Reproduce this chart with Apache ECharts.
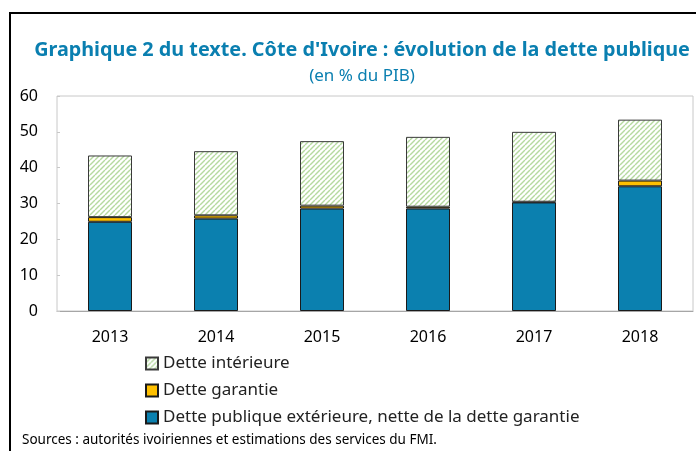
<!DOCTYPE html>
<html><head><meta charset="utf-8">
<script src="https://cdn.jsdelivr.net/npm/echarts@6/dist/echarts.min.js"></script>
<style>html,body{margin:0;padding:0;background:#fff}#c{width:696px;height:451px}</style>
</head><body><div id="c"></div>
<script>
const years = ['2013','2014','2015','2016','2017','2018'];
const detteExterieure = [24.9, 25.8, 28.6, 28.6, 30.3, 34.8];
const detteGarantie = [1.3, 0.9, 0.8, 0.5, 0.2, 1.6];
const detteInterieure = [17.2, 17.9, 18.0, 19.5, 19.5, 17.0];
const yTicks = [0, 10, 20, 30, 40, 50, 60];

const pc = document.createElement('canvas');
pc.width = 5; pc.height = 5;
const g = pc.getContext('2d');
g.fillStyle = '#fff'; g.fillRect(0,0,5,5);
g.strokeStyle = '#b5d9a0'; g.lineWidth = 1.4;
for (let k = -5; k <= 10; k += 5) { g.beginPath(); g.moveTo(k, 5); g.lineTo(k + 5, 0); g.stroke(); }
const hatch = {image: pc, repeat: 'repeat'};

const FONT = 'Noto Sans';
const chart = echarts.init(document.getElementById('c'), null, {renderer: 'canvas'});
chart.setOption({
  animation: false,
  textStyle: {fontFamily: FONT},
  graphic: [{type: 'rect', shape: {x: 10, y: 13, width: 700, height: 470}, style: {fill: 'none', stroke: '#000', lineWidth: 2}, z: -1},
    {type: 'text', left: 22, top: 433, style: {text: 'Sources : autorités ivoiriennes et estimations des services du FMI.', font: '13.5px "Noto Sans"', fill: '#000'}}],
  title: {text: "Graphique 2 du texte. Côte d'Ivoire : évolution de la dette publique", subtext: '(en % du PIB)',
    left: 357, textAlign: 'center', top: 35, itemGap: 8,
    textStyle: {fontFamily: FONT, fontSize: 19.8, fontWeight: 'bold', color: '#0a7fb0'},
    subtextStyle: {fontFamily: FONT, fontSize: 17, color: '#0a7fb0'}},
  legend: {orient: 'vertical', left: 140, top: 349, itemGap: 8, itemWidth: 12, itemHeight: 12, icon: 'rect',
    textStyle: {fontFamily: FONT, fontSize: 17, color: '#222', lineHeight: 19},
    data: ['Dette intérieure', 'Dette garantie', 'Dette publique extérieure, nette de la dette garantie']},
  grid: {left: 57, top: 96, right: 3, bottom: 140, show: true, borderColor: '#c8c8c8', borderWidth: 1},
  xAxis: {type: 'category', data: years,
    axisLine: {lineStyle: {color: '#a6a6a6'}}, axisTick: {inside: true, length: 5, lineStyle: {color: '#a6a6a6'}},
    axisLabel: {fontSize: 16, color: '#000', margin: 18}},
  yAxis: {type: 'value', min: 0, max: 60, interval: 10,
    axisLine: {show: false}, axisTick: {show: true, inside: true, length: 3, lineStyle: {color: '#c8c8c8'}},
    splitLine: {show: false}, axisLabel: {fontSize: 16, color: '#000', margin: 19}},
  series: [
    {name: 'Dette publique extérieure, nette de la dette garantie', type: 'bar', stack: 's', data: detteExterieure, barWidth: 44,
      itemStyle: {color: '#0b80af', borderColor: '#1a1a1a', borderWidth: 1}},
    {name: 'Dette garantie', type: 'bar', stack: 's', data: detteGarantie,
      itemStyle: {color: '#ffc000', borderColor: '#1a1a1a', borderWidth: 1}},
    {name: 'Dette intérieure', type: 'bar', stack: 's', data: detteInterieure,
      itemStyle: {color: hatch, borderColor: '#3a3a3a', borderWidth: 1}}
  ]
});
</script></body></html>
